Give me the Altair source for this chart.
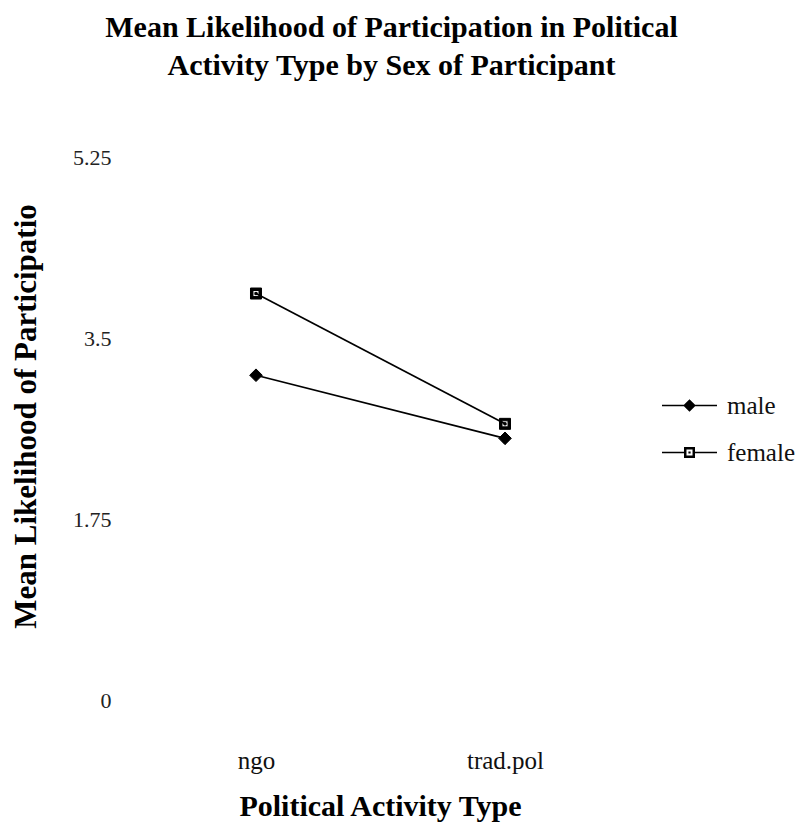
import altair as alt
import pandas as pd

activity = ["ngo", "trad.pol"]
sexes = ["male", "female"]
male_means = [3.14, 2.53]
female_means = [3.93, 2.67]
y_ticks = [0, 1.75, 3.5, 5.25]

rows = []
for a, m, f in zip(activity, male_means, female_means):
    rows.append({"activity": a, "sex": "male", "mean": m})
    rows.append({"activity": a, "sex": "female", "mean": f})
df = pd.DataFrame(rows)

FONT = "Liberation Serif"

# marker paths (unit = sqrt(size)/2)
diamond = "M0,-1.15L1.15,0L0,1.15L-1.15,0Z"
square = ("M-1,-1H1V1H-1Z"
          "M-0.55,-0.55V0.55H0.55V-0.55Z"
          "M-0.2,-0.2H0.2V0.2H-0.2Z")
male_leg = "M-5,-0.14H5V0.14H-5Z" + diamond
female_leg = "M-5,-0.14H-1V0.14H-5ZM1,-0.14H5V0.14H1Z" + square

x_enc = alt.X(
    "activity:N", sort=activity,
    scale=alt.Scale(type="point", padding=0.526),
    axis=alt.Axis(
        title="Political Activity Type", labelAngle=0, domain=False, ticks=False, grid=False,
        labelFont=FONT, labelFontSize=25, labelColor="#111", labelPadding=48,
        titleFont=FONT, titleFontSize=30, titleFontWeight="bold", titleColor="#000",
        titleX=255, titleY=115, titleBaseline="alphabetic", titleAlign="center",
    ),
)
y_enc = alt.Y(
    "mean:Q",
    scale=alt.Scale(domain=[0, 5.25], nice=False, zero=True),
    axis=alt.Axis(
        title="Mean Likelihood of Participatio", values=y_ticks, format=".3~g",
        domain=False, ticks=False, grid=False,
        labelFont=FONT, labelFontSize=22, labelColor="#222", labelPadding=14,
        titleFont=FONT, titleFontSize=31, titleFontWeight="bold", titleColor="#000",
        titleX=-99, titleY=259, titleBaseline="middle", titleAlign="center", titleAngle=-90,
    ),
)

base = alt.Chart(df)

lines = base.mark_line(color="black", strokeWidth=1.7).encode(
    x=x_enc, y=y_enc, detail="sex:N"
)

points = base.mark_point(fill="black", stroke="black", strokeWidth=1, opacity=1, size=121).encode(
    x=x_enc, y=y_enc,
    shape=alt.Shape("sex:N", scale=alt.Scale(domain=sexes, range=[diamond, square]), legend=None),
)

legend_layer = base.mark_point(fill="black", stroke="black", strokeWidth=1, opacity=0, size=121).encode(
    x=x_enc, y=y_enc,
    shape=alt.Shape(
        "sex:N",
        scale=alt.Scale(domain=sexes, range=[male_leg, female_leg]),
        legend=alt.Legend(
            title=None, orient="none", legendX=552, legendY=236, padding=0,
            symbolSize=121, symbolFillColor="black", symbolStrokeColor="black",
            symbolStrokeWidth=1, symbolOpacity=1,
            labelFont=FONT, labelFontSize=25, labelColor="#111", labelOffset=25,
            rowPadding=21,
        ),
    ),
)

chart = alt.layer(lines, points, legend_layer).resolve_scale(shape="independent").properties(
    width=511, height=543,
    padding={"left": 117, "top": 149, "right": 160, "bottom": 124},
    autosize=alt.AutoSizeParams(type="none"),
    background="white",
    title=alt.Title(
        text=["Mean Likelihood of Participation in Political", "Activity Type by Sex of Participant"],
        font=FONT, fontSize=30, fontWeight="bold", color="#000",
        lineHeight=38, anchor="middle", baseline="alphabetic", offset=41, dx=11,
    ),
).configure_view(stroke=None)

chart.save("out.html", embed_options={"renderer": "svg", "actions": False})
